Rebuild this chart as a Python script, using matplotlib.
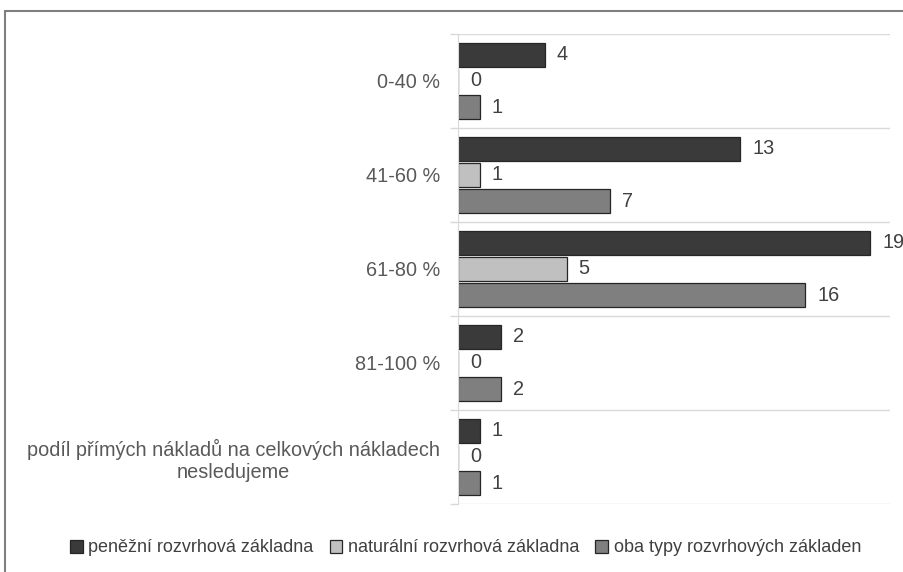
import matplotlib
matplotlib.use("Agg")
import matplotlib.pyplot as plt
from matplotlib.patches import Rectangle
import numpy as np

categories = ["0-40 %", "41-60 %", "61-80 %", "81-100 %",
              "podíl přímých nákladů na celkových nákladech\nnesledujeme"]
series_names = ["peněžní rozvrhová základna", "naturální rozvrhová základna",
                "oba typy rozvrhových základen"]
penezni = [4, 13, 19, 2, 1]
naturalni = [0, 1, 5, 0, 0]
oba = [1, 7, 16, 2, 1]

colors = ["#3a3a3a", "#c0c0c0", "#7f7f7f"]
series = [penezni, naturalni, oba]

plt.rcParams['font.family'] = ['Liberation Sans', 'DejaVu Sans']

fig = plt.figure(figsize=(9.04, 5.72), dpi=100)
ax = fig.add_axes([458/904, 1-504/572, 432/904, 470/572])

y = np.arange(len(categories))
offsets = [-0.28, 0.0, 0.28]
h = 0.255
for vals, off, col, name in zip(series, offsets, colors, series_names):
    bars = ax.barh(y + off, vals, height=h, color=col, edgecolor="#262626",
                   linewidth=0.9, label=name)
    for b, v in zip(bars, vals):
        ax.annotate(str(v), (b.get_width(), b.get_y() + b.get_height()/2),
                    xytext=(8.6, 0), textcoords="offset points",
                    ha="left", va="center", fontsize=14.3, color="#404040",
                    annotation_clip=False)

ax.set_xlim(0, 19.9)
ax.set_ylim(len(categories) - 0.5, -0.5)
ax.set_yticks(y)
ax.set_yticklabels(categories, fontsize=14.3, color="#595959",
                   multialignment="center")
ax.set_yticks(np.arange(-0.5, len(categories)), minor=True)
ax.tick_params(axis="y", which="major", length=0, pad=13)
ax.tick_params(axis="y", which="minor", length=6, color="#d9d9d9", width=1)
ax.grid(axis="y", which="minor", color="#d9d9d9", linewidth=1)
ax.set_axisbelow(True)
ax.set_xticks([])
for s in ["top", "right", "bottom"]:
    ax.spines[s].set_visible(False)
ax.spines["left"].set_color("#d9d9d9")

leg = fig.legend(loc="center", bbox_to_anchor=(0.515, 1-548/572), ncol=3,
                 frameon=False, handlelength=0.7,
                 handleheight=0.7, handletextpad=0.3, columnspacing=0.9,
                 prop={'family': ['Liberation Sans'], 'size': 13})
for t in leg.get_texts():
    t.set_color("#404040")

fig.patches.append(Rectangle((5/904, -0.05), 1.0, 1-11/572 + 0.05,
                             transform=fig.transFigure, fill=False,
                             edgecolor="#7f7f7f", linewidth=1.5))

fig.savefig("out.png", dpi=100)
